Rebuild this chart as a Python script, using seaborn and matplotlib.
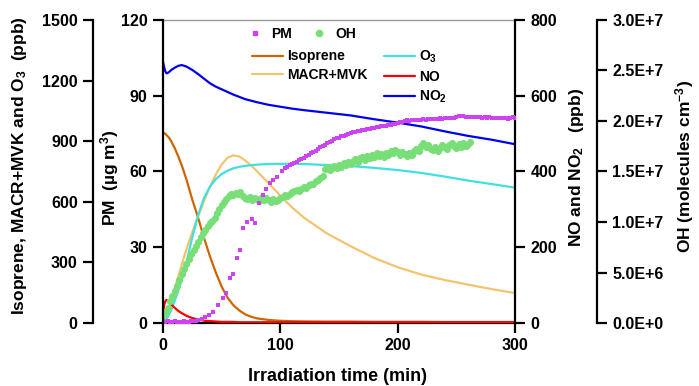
import numpy as np
import pandas as pd
import matplotlib
matplotlib.use("Agg")
import matplotlib.pyplot as plt
import seaborn as sns
from matplotlib.ticker import FuncFormatter
from matplotlib.lines import Line2D

# ---- data ----
# gas-phase lines (time in min)
t_line = [0, 1, 2, 3, 5, 7, 10, 13, 16, 20, 25, 30, 35, 40, 45, 50, 55, 60, 65, 70,
          75, 80, 90, 100, 110, 120, 140, 160, 180, 200, 220, 240, 260, 280, 300]
isoprene = [942, 940, 936, 930, 918, 900, 865, 825, 780, 710, 610, 520, 420, 330, 250,
            180, 125, 88, 62, 43, 31, 23, 15, 11, 9, 8, 7, 7, 6, 6, 6, 5, 5, 5, 5]
macr_mvk = [0, 8, 20, 35, 70, 110, 170, 230, 290, 365, 450, 530, 605, 675, 735,
            785, 818, 830, 824, 805, 780, 752, 692, 630, 572, 522, 442, 380, 322, 276,
            240, 213, 190, 168, 148]
o3 = [0, 5, 12, 20, 40, 65, 110, 160, 215, 300, 425, 535, 620, 675, 712,
      737, 754, 766, 773, 778, 781, 784, 787, 788, 788, 787, 782, 777, 768, 757,
      743, 725, 705, 688, 670]
no = [30, 48, 58, 61, 56, 49, 40, 32, 26, 19, 13, 9, 6, 5, 4,
      3, 3, 3, 2, 2, 2, 2, 2, 2, 2, 2, 2, 2, 2, 2, 2, 2, 2, 2, 2]
no2 = [690, 675, 664, 659, 662, 668, 674, 679, 681, 677, 668, 657, 645, 633, 624,
       617, 610, 603, 597, 591, 587, 583, 576, 571, 566, 562, 555, 548, 538, 529,
       519, 506, 494, 484, 472]

# PM (ug m-3): early flat part, sparse rise, dense part
pm_t_early = list(range(0, 31, 2))
pm_early = [0.6, 0.5, 0.6, 0.4, 0.5, 0.6, 0.5, 0.5, 0.4, 0.6, 0.5, 0.5, 0.6, 0.7, 0.8, 1.0]
pm_t_mid = [33, 36, 39, 43, 47, 51, 54, 57, 60, 63, 66, 68.5, 72, 75.5, 78.5, 81.5,
            85, 88, 91, 94, 97, 101, 104]
pm_mid = [1.5, 2.3, 3.2, 4.5, 7.1, 9.8, 12.0, 17.7, 19.4, 25.6, 28.9, 37.5, 40.1, 41.0,
          39.7, 47.6, 50.5, 53.0, 55.3, 56.6, 58.0, 60.0, 61.2]
pm_t_late = list(range(106, 301, 2))
pm_late = [61.9, 62.4, 62.9, 63.3, 63.9, 64.5, 65.0, 65.4, 66.1, 66.6,
           67.2, 67.8, 68.3, 68.9, 69.6, 70.1, 70.6, 71.3, 71.8, 72.2,
           72.7, 73.1, 73.4, 73.9, 74.2, 74.5, 74.8, 75.2, 75.5, 75.7,
           76.0, 76.2, 76.4, 76.6, 76.9, 77.0, 77.2, 77.4, 77.5, 77.7,
           77.9, 78.1, 78.2, 78.5, 78.6, 78.9, 79.0, 79.3, 79.6, 79.8,
           80.1, 80.2, 80.0, 80.3, 80.2, 80.5, 80.4, 80.4, 80.6, 80.5,
           80.8, 80.6, 80.7, 80.9, 80.8, 81.0, 80.9, 81.0, 81.1, 81.0,
           81.3, 81.2, 81.6, 81.9, 82.1, 82.0, 81.7, 81.6, 81.5, 81.7,
           81.4, 81.6, 81.5, 81.3, 81.4, 81.2, 81.4, 81.2, 81.1, 81.3,
           81.0, 81.2, 81.0, 81.1, 80.9, 81.2, 81.4, 81.0]

# OH (1e6 molecules cm-3), every 2 min
oh_t = list(range(0, 263, 2))
oh_e6 = [0.5, 1.0, 1.5, 2.2, 2.7, 3.2, 3.7, 4.3, 4.9, 5.3,
         5.8, 6.3, 6.8, 7.2, 7.6, 8.0, 8.5, 8.9, 9.2, 9.6,
         9.9, 10.1, 10.4, 10.9, 11.3, 11.7, 12.0, 12.3, 12.6, 12.8,
         12.7, 12.9, 12.8, 13.0, 12.6, 12.4, 12.3, 12.5, 12.2, 12.4,
         12.3, 12.1, 12.5, 12.2, 12.4, 12.2, 12.0, 12.3, 12.1, 12.2,
         12.4, 12.5, 12.7, 12.6, 12.8, 13.0, 13.1, 13.2, 13.1, 13.3,
         13.5, 13.4, 13.7, 13.8, 13.8, 14.1, 14.2, 14.4, 14.6, 15.2,
         15.4, 15.1, 15.3, 15.5, 15.3, 15.6, 15.4, 15.8, 15.6, 15.9,
         15.7, 16.0, 16.2, 15.9, 16.3, 16.4, 16.1, 16.5, 16.3, 16.6,
         16.4, 16.8, 16.5, 16.7, 16.4, 16.8, 16.6, 17.0, 16.8, 17.1,
         16.9, 16.6, 16.9, 16.7, 16.5, 16.8, 16.6, 17.0, 17.2, 17.0,
         17.5, 17.8, 17.4, 17.6, 17.2, 17.1, 17.4, 17.0, 17.3, 17.6,
         17.4, 17.2, 17.6, 17.8, 17.5, 17.3, 17.7, 17.4, 17.8, 17.5,
         17.7, 17.9]

pm_t = pm_t_early + pm_t_mid + pm_t_late
pm = pm_early + pm_mid + pm_late
oh = np.array(oh_e6) * 1e6

c_iso = "#CC6600"
c_macr = "#F2C46E"
c_o3 = "#3FE0E0"
c_no = "#FF0000"
c_no2 = "#0000EE"
c_pm = "#CC44F2"
c_oh = "#78DE78"

sns.set_style("ticks")
plt.rcParams["font.family"] = ["Liberation Sans", "DejaVu Sans"]
plt.rcParams["font.weight"] = "bold"
plt.rcParams["font.size"] = 10
plt.rcParams["text.color"] = "black"
plt.rcParams["axes.edgecolor"] = "black"
plt.rcParams["xtick.color"] = "black"
plt.rcParams["ytick.color"] = "black"
plt.rcParams["mathtext.fontset"] = "custom"
plt.rcParams["mathtext.bf"] = "Liberation Sans:bold"
plt.rcParams["mathtext.rm"] = "Liberation Sans:bold"
plt.rcParams["mathtext.default"] = "bf"

fig = plt.figure(figsize=(6.99, 3.86), dpi=100)
ax = fig.add_axes([0.2332, 0.1632, 0.5036, 0.785])
ax_no = ax.twinx()
ax_oh = ax.twinx()
ax_pm = ax.twinx()

lw = 1.6
sns.lineplot(x=t_line, y=isoprene, ax=ax, color=c_iso, lw=lw, legend=False)
sns.lineplot(x=t_line, y=macr_mvk, ax=ax, color=c_macr, lw=lw, legend=False)
sns.lineplot(x=t_line, y=o3, ax=ax, color=c_o3, lw=lw, legend=False)
sns.lineplot(x=t_line, y=no2, ax=ax_no, color=c_no2, lw=lw, legend=False)
sns.lineplot(x=t_line, y=no, ax=ax_no, color=c_no, lw=lw, legend=False)
sns.scatterplot(x=oh_t, y=oh, ax=ax_oh, color=c_oh, marker="o", s=26, linewidth=0, legend=False)
sns.scatterplot(x=pm_t, y=pm, ax=ax_pm, color=c_pm, marker="s", s=12, linewidth=0, legend=False)

# axes limits / ticks
ax.set_xlim(0, 300)
ax.set_xticks([0, 100, 200, 300])
ax.set_ylim(0, 1500)
ax.set_yticks(range(0, 1501, 300))
ax_pm.set_ylim(0, 120)
ax_pm.set_yticks(range(0, 121, 30))
ax_no.set_ylim(0, 800)
ax_no.set_yticks(range(0, 801, 200))
ax_oh.set_ylim(0, 3e7)
ax_oh.set_yticks(np.arange(0, 3.01e7, 5e6))


def sci(v, pos):
    if v == 0:
        return "0.0E+0"
    e = int(np.floor(np.log10(v)))
    return f"{v / 10 ** e:.1f}E+{e}"


ax_oh.yaxis.set_major_formatter(FuncFormatter(sci))

for a in [ax, ax_no, ax_oh, ax_pm]:
    a.set_xlabel("")
    a.set_ylabel("")
    for s in a.spines.values():
        s.set_visible(False)
        s.set_linewidth(1.6)
        s.set_color("black")
    a.tick_params(direction="out", length=7, width=1.6, labelsize=11.5, pad=4,
                  color="black", labelcolor="black")

ax.spines["left"].set_visible(True)
ax.spines["left"].set_position(("axes", -0.199))
ax.spines["bottom"].set_visible(True)
ax.spines["top"].set_visible(True)
ax.spines["top"].set_color("#999999")
ax.spines["top"].set_linewidth(1.0)
ax.yaxis.tick_left()

ax_pm.yaxis.tick_left()
ax_pm.spines["left"].set_visible(True)

ax_no.yaxis.tick_right()
ax_no.spines["right"].set_visible(True)

ax_oh.yaxis.tick_right()
ax_oh.spines["right"].set_visible(True)
ax_oh.spines["right"].set_position(("axes", 1.233))

# axis titles
ax.text(-0.409, 0.52, "Isoprene, MACR+MVK and O$_3$  (ppb)", transform=ax.transAxes,
        rotation=90, ha="center", va="center", fontsize=12.5)
ax.text(-0.153, 0.48, "PM  (µg m$^3$)", transform=ax.transAxes,
        rotation=90, ha="center", va="center", fontsize=12.5)
ax.text(1.176, 0.515, "NO and NO$_2$   (ppb)", transform=ax.transAxes,
        rotation=90, ha="center", va="center", fontsize=12.5)
ax.text(1.481, 0.515, "OH (molecules cm$^{-3}$)", transform=ax.transAxes,
        rotation=90, ha="center", va="center", fontsize=12.5)
ax.text(0.497, -0.178, "Irradiation time (min)", transform=ax.transAxes,
        ha="center", va="center", fontsize=13)

# legends
mk_handles = [Line2D([], [], ls="", marker="s", color=c_pm, markersize=3.5),
              Line2D([], [], ls="", marker="o", color=c_oh, markersize=4.5)]
leg1 = ax_pm.legend(mk_handles, ["PM", "OH"], loc="upper left", bbox_to_anchor=(0.241, 0.978),
                    ncol=2, frameon=False, borderpad=0, borderaxespad=0, handlelength=1.0,
                    handletextpad=0.7, columnspacing=1.4, prop={"weight": "bold", "size": 10})
ax_pm.add_artist(leg1)

ln_handles = [Line2D([], [], color=c_iso, lw=lw), Line2D([], [], color=c_macr, lw=lw),
              Line2D([], [], alpha=0), Line2D([], [], color=c_o3, lw=lw),
              Line2D([], [], color=c_no, lw=lw), Line2D([], [], color=c_no2, lw=lw)]
ln_labels = ["Isoprene", "MACR+MVK", "", "O$_3$", "NO", "NO$_2$"]
ax_pm.legend(ln_handles, ln_labels, loc="upper left", bbox_to_anchor=(0.253, 0.906),
             ncol=2, frameon=False, borderpad=0, borderaxespad=0, handlelength=2.2,
             handletextpad=0.35, columnspacing=1.15, labelspacing=0.35,
             prop={"weight": "bold", "size": 10})

fig.savefig("out.png", dpi=100)
